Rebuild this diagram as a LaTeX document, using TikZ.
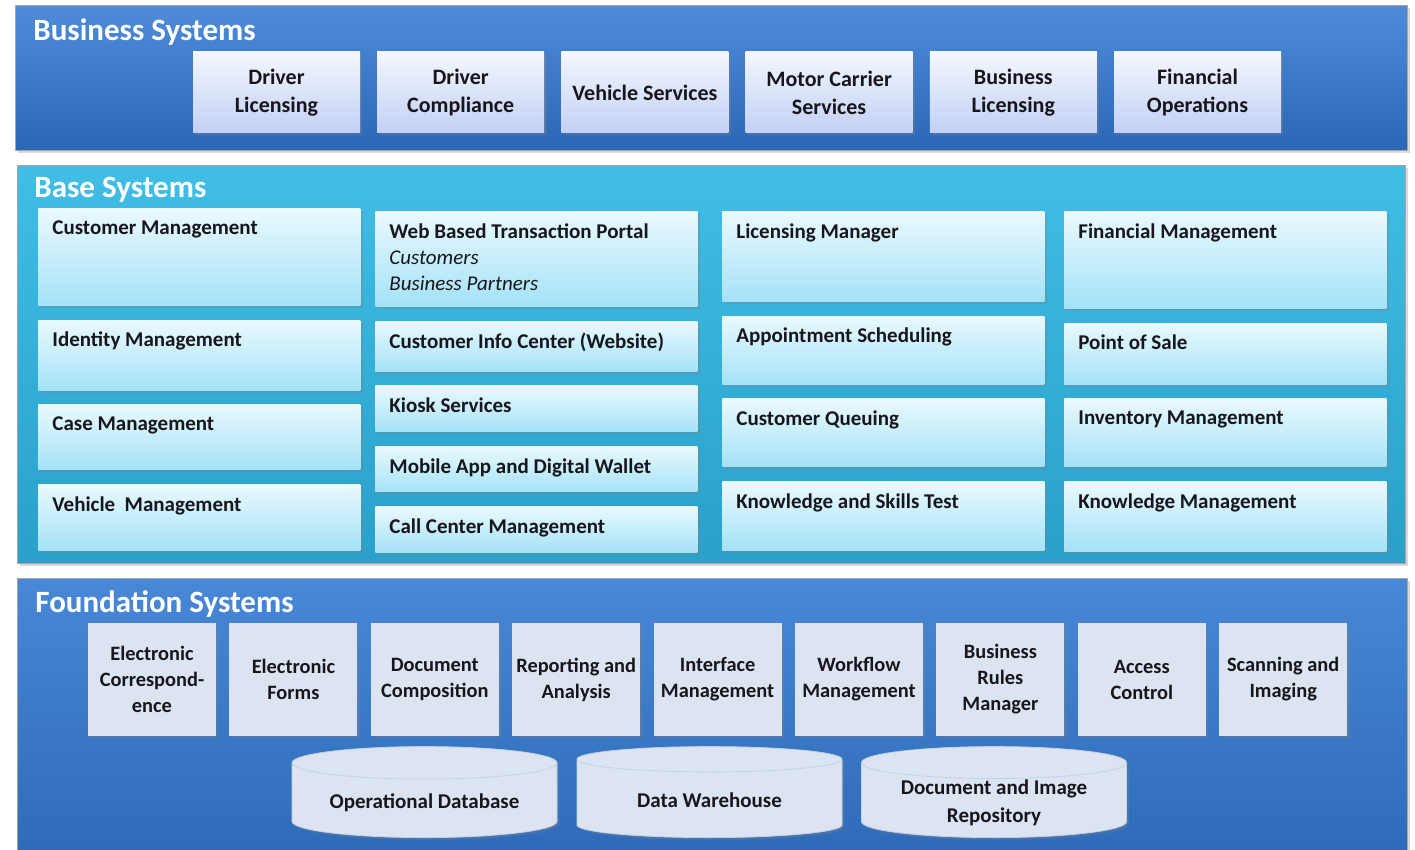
\documentclass[tikz,border=0pt]{standalone}
\usepackage{fontspec}
\setmainfont{Carlito}
\usepackage{tikz}
\usetikzlibrary{positioning,shapes.geometric,shadows}

\definecolor{bizlight}{RGB}{78,140,218}
\definecolor{bizdark}{RGB}{44,102,180}
\definecolor{baselight}{RGB}{64,190,230}
\definecolor{basedark}{RGB}{42,160,202}
\definecolor{fndlight}{RGB}{72,136,214}
\definecolor{fnddark}{RGB}{46,106,184}
\definecolor{bizboxtop}{RGB}{244,247,255}
\definecolor{bizboxbot}{RGB}{194,208,244}
\definecolor{baseboxtop}{RGB}{234,249,254}
\definecolor{baseboxbot}{RGB}{164,226,247}
\definecolor{fndfill}{RGB}{220,228,241}
\definecolor{ink}{RGB}{22,22,28}

\tikzstyle{panel}=[rectangle, anchor=north west, draw=black!35, line width=0.4pt,
        drop shadow={shadow xshift=1.5pt, shadow yshift=-1.5pt, opacity=0.3}]
\tikzstyle{title}=[anchor=west, inner sep=0pt, text=white, font=\fontsize{15.5}{18}\selectfont\bfseries]
\tikzstyle{bizbox}=[rectangle, top color=bizboxtop, bottom color=bizboxbot, text=ink,
        drop shadow={shadow xshift=1.2pt, shadow yshift=-1.2pt, opacity=0.35},
        minimum width=83.5pt, minimum height=40.5pt, align=center, inner sep=1pt,
        font=\fontsize{11}{14}\selectfont\bfseries]
\tikzstyle{basebox}=[rectangle, top color=baseboxtop, bottom color=baseboxbot, anchor=north west,
        drop shadow={shadow xshift=1.2pt, shadow yshift=-1.2pt, opacity=0.35},
        minimum width=161pt, inner sep=0pt]
\tikzstyle{boxtext}=[anchor=north west, inner sep=0pt, xshift=7pt, yshift=-6pt, align=left,
        text=ink, font=\fontsize{10.5}{13}\selectfont\bfseries]
\tikzstyle{fndbox}=[rectangle, fill=fndfill, text=ink,
        drop shadow={shadow xshift=1.2pt, shadow yshift=-1.2pt, opacity=0.35},
        minimum width=64pt, minimum height=56.5pt, align=center, inner sep=0.5pt,
        font=\fontsize{10.2}{13}\selectfont\bfseries]
\tikzstyle{store}=[cylinder, shape border rotate=90, aspect=0.16, draw=white!70!fnddark, fill=fndfill,
        drop shadow={shadow xshift=1.2pt, shadow yshift=-1.2pt, opacity=0.35},
        minimum width=132.5pt, minimum height=45.5pt, inner ysep=0pt, align=center, text=ink,
        anchor=south, font=\fontsize{10.5}{14}\selectfont\bfseries]

\begin{document}
\begin{tikzpicture}[x=0.5pt, y=-0.5pt, node distance=8.2pt]
        \useasboundingbox (0,0) rectangle (1415,850);

        % the three layers
        \node (BizPanel) [panel, top color=bizlight, bottom color=bizdark,
          minimum width=696pt, minimum height=72.5pt] at (15,5) {};
        \node (BasePanel) [panel, top color=baselight, bottom color=basedark,
          minimum width=694pt, minimum height=199pt] at (17,165) {};
        \node (FndPanel) [panel, top color=fndlight, bottom color=fnddark,
          minimum width=695pt, minimum height=140pt] at (17,578) {};

        \node (BizTitle) [title] at (33,32) {Business Systems};
        \node (BaseTitle) [title] at (34,190) {Base Systems};
        \node (FndTitle) [title] at (35,604) {Foundation Systems};

        % business systems
        \node (DriverLic) [bizbox] at (276.5,92.5) {Driver\\Licensing};
        \node (DriverComp) [bizbox, right=of DriverLic] {Driver\\Compliance};
        \node (VehicleSvc) [bizbox, right=of DriverComp] {Vehicle Services};
        \node (MotorCarrier) [bizbox, right=of VehicleSvc] {Motor Carrier\\Services};
        \node (BizLic) [bizbox, right=of MotorCarrier] {Business\\Licensing};
        \node (FinOps) [bizbox, right=of BizLic] {Financial\\Operations};

        % base systems, column by column
        \node (CustMgmt) [basebox, minimum height=48.5pt,
          label={[boxtext]north west:Customer Management}] at (38,208) {};
        \node (IdMgmt) [basebox, minimum height=35pt, below=7pt of CustMgmt,
          label={[boxtext]north west:Identity Management}] {};
        \node (CaseMgmt) [basebox, minimum height=32.5pt, below=7pt of IdMgmt,
          label={[boxtext]north west:Case Management}] {};
        \node (VehMgmt) [basebox, minimum height=33pt, below=7pt of CaseMgmt,
          label={[boxtext]north west:Vehicle~ Management}] {};

        \node (WebPortal) [basebox, minimum height=47.5pt,
          label={[boxtext]north west:Web Based Transaction Portal\\{\mdseries\itshape Customers}\\{\mdseries\itshape Business Partners}}] at (375,211) {};
        \node (InfoCenter) [basebox, minimum height=25pt, below=7pt of WebPortal,
          label={[boxtext]north west:Customer Info Center (Website)}] {};
        \node (Kiosk) [basebox, minimum height=23pt, below=7pt of InfoCenter,
          label={[boxtext]north west:Kiosk Services}] {};
        \node (MobileApp) [basebox, minimum height=22.5pt, below=7pt of Kiosk,
          label={[boxtext]north west:Mobile App and Digital Wallet}] {};
        \node (CallCenter) [basebox, minimum height=23pt, below=7pt of MobileApp,
          label={[boxtext]north west:Call Center Management}] {};

        \node (LicMgr) [basebox, minimum height=45pt,
          label={[boxtext]north west:Licensing Manager}] at (722,211) {};
        \node (Appt) [basebox, minimum height=34pt, below=7pt of LicMgr,
          label={[boxtext]north west:Appointment Scheduling}] {};
        \node (Queue) [basebox, minimum height=34pt, below=7pt of Appt,
          label={[boxtext]north west:Customer Queuing}] {};
        \node (SkillsTest) [basebox, minimum height=34.5pt, below=7pt of Queue,
          label={[boxtext]north west:Knowledge and Skills Test}] {};

        \node (FinMgmt) [basebox, minimum height=48.5pt,
          label={[boxtext]north west:Financial Management}] at (1064,211) {};
        \node (POS) [basebox, minimum height=30.5pt, below=7pt of FinMgmt,
          label={[boxtext]north west:Point of Sale}] {};
        \node (InvMgmt) [basebox, minimum height=34pt, below=7pt of POS,
          label={[boxtext]north west:Inventory Management}] {};
        \node (KnowMgmt) [basebox, minimum height=35pt, below=7pt of InvMgmt,
          label={[boxtext]north west:Knowledge Management}] {};

        % foundation systems
        \begin{scope}[node distance=6.3pt]
        \node (Corresp) [fndbox] at (152,679.5) {Electronic\\Correspond-\\ence};
        \node (Forms) [fndbox, right=of Corresp] {Electronic\\Forms};
        \node (DocComp) [fndbox, right=of Forms] {Document\\Composition};
        \node (Reporting) [fndbox, right=of DocComp] {Reporting and\\Analysis};
        \node (Interface) [fndbox, right=of Reporting] {Interface\\Management};
        \node (Workflow) [fndbox, right=of Interface] {Workflow\\Management};
        \node (Rules) [fndbox, right=of Workflow] {Business\\Rules\\Manager};
        \node (Access) [fndbox, right=of Rules] {Access\\Control};
        \node (Scanning) [fndbox, right=of Access] {Scanning and\\Imaging};
        \end{scope}

        \node (OpDb) [store] at (424.5,838) {Operational Database};
        \node (Warehouse) [store] at (709.5,838) {Data Warehouse};
        \node (DocRepo) [store] at (994,838) {Document and Image\\Repository};
\end{tikzpicture}
\end{document}
